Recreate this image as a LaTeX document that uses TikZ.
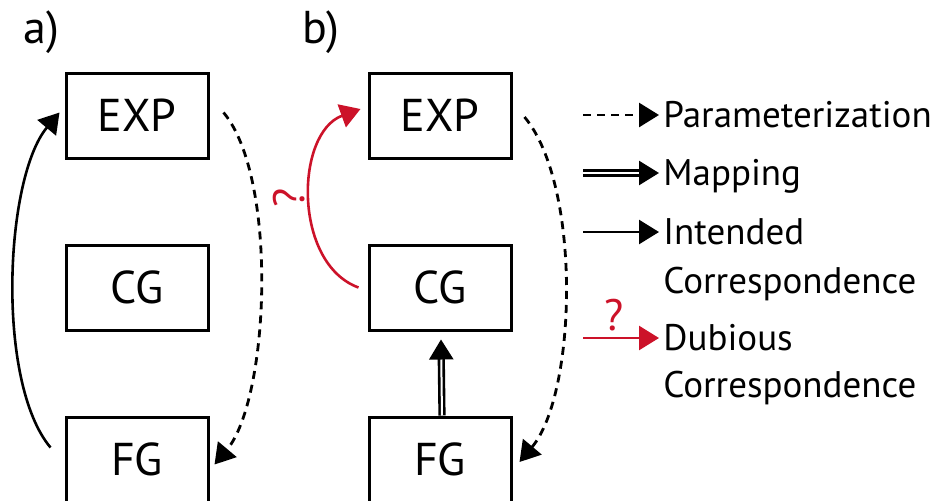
\documentclass[tikz,border=0pt]{standalone}
\usepackage{fontspec}
\setmainfont{PT Sans}
\usetikzlibrary{arrows.meta}
\definecolor{dubred}{RGB}{204,18,41}
\newcommand{\boxfont}{\fontsize{23}{28}\selectfont}
\newcommand{\legfont}{\fontsize{18.5}{22}\selectfont}
\newcommand{\qfont}{\fontsize{22}{26}\selectfont}
\tikzset{
  modelbox/.style={draw, line width=1.5pt, minimum width=71pt, minimum height=42.5pt, inner sep=0pt, font=\boxfont},
  tiparrow/.style={-{Triangle[length=10pt,width=12pt]}},
  paramarrow/.style={tiparrow, line width=1.4pt, dash pattern=on 4pt off 3pt},
  maparrow/.style={tiparrow, line width=1.3pt, double, double distance=1pt},
  corrarrow/.style={tiparrow, line width=1.3pt},
  dubarrow/.style={corrarrow, draw=dubred, -{Triangle[length=10pt,width=12pt,fill=dubred]}},
  legtext/.style={font=\legfont, inner sep=0pt, inner xsep=2pt, text height=12.5pt, text depth=0pt, anchor=west}
}
\begin{document}
\begin{tikzpicture}[x=0.5pt,y=0.5pt]
  \useasboundingbox (0,0) rectangle (947,500);
  \node[anchor=base west, inner sep=0pt, font=\boxfont] (la) at (23,457) {a)};
  \node[anchor=base west, inner sep=0pt, font=\boxfont] (lb) at (302,457) {b)};
  % a)
  \node[modelbox] (EXPa) at (137,384.5) {EXP};
  \node[modelbox] (CGa) at (137,212.5) {CG};
  \node[modelbox] (FGa) at (137,40.5) {FG};
  \draw[corrarrow] ([shift={(-14,12)}]FGa.west) to[out=130,in=-130,looseness=0.65] ([shift={(-5,3)}]EXPa.west);
  \draw[paramarrow] ([shift={(14,3)}]EXPa.east) to[out=-50,in=50,looseness=0.62] ([shift={(5,-5)}]FGa.east);
  % b)
  \node[modelbox] (EXPb) at (440,384.5) {EXP};
  \node[modelbox] (CGb) at (440,212.5) {CG};
  \node[modelbox] (FGb) at (440,40.5) {FG};
  \draw[maparrow] ([xshift=1]FGb.north) -- ([shift={(1,-8)}]CGb.south);
  \draw[paramarrow] ([shift={(12,-1.5)}]EXPb.east) to[out=-50,in=50,looseness=0.66] ([shift={(7,-2.5)}]FGb.east);
  \draw[dubarrow] ([shift={(-9,0)}]CGb.west) to[out=160,in=-160,looseness=1.0]
    node[midway, xshift=-10.5pt, rotate=90, font=\qfont, text=dubred] (qb) {?} ([shift={(-7,6.5)}]EXPb.west);
  % legend
  \coordinate (ps) at (583,385);
  \node[legtext] (pt) at (659,385) {Parameterization};
  \draw[paramarrow] (ps) -- (pt.west);
  \coordinate (ms) at (583,327);
  \node[legtext] (mt) at (659,327) {Mapping};
  \draw[maparrow] (ms) -- (mt.west);
  \coordinate (is) at (583,268);
  \node[legtext] (it) at (659,268) {Intended};
  \node[legtext] (it2) at (659,219) {Correspondence};
  \draw[corrarrow] (is) -- (it.west);
  \coordinate (ds) at (583,162);
  \node[legtext] (dt) at (659,162) {Dubious};
  \node[legtext] (dt2) at (659,115) {Correspondence};
  \draw[dubarrow] (ds) -- node[midway, yshift=11.5pt, xshift=-3.5pt, font=\qfont, text=dubred] (qd) {?} (dt.west);
\end{tikzpicture}
\end{document}
